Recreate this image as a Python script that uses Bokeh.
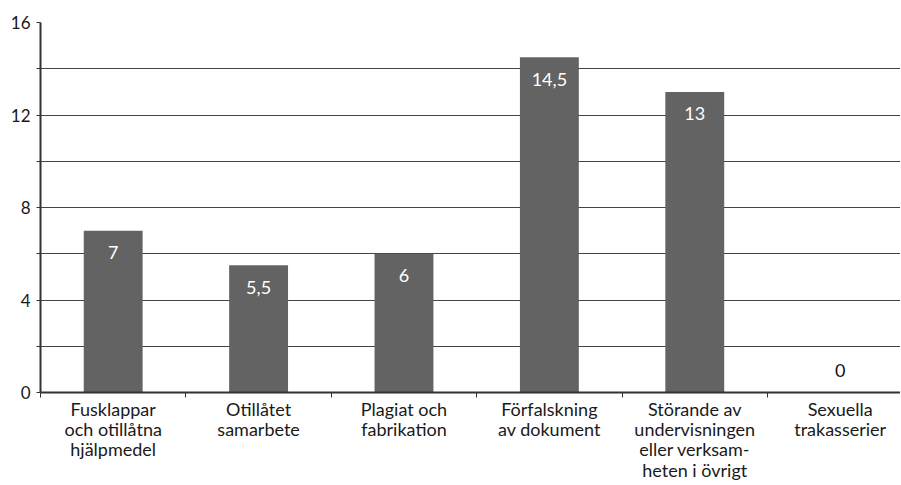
from bokeh.plotting import figure
from bokeh.models import Range1d, FixedTicker, ColumnDataSource
from bokeh.core.properties import value
from bokeh.embed import file_html
from bokeh.resources import INLINE

categories = [
    "Fusklappar\noch otillåtna\nhjälpmedel",
    "Otillåtet\nsamarbete",
    "Plagiat och\nfabrikation",
    "Förfalskning\nav dokument",
    "Störande av\nundervisningen\neller verksam-\nheten i övrigt",
    "Sexuella\ntrakasserier",
]
values = [7, 5.5, 6, 14.5, 13, 0]
value_labels = ["7", "5,5", "6", "14,5", "13", "0"]
y_ticks = [0, 4, 8, 12, 16]
y_minor = [2, 6, 10, 14]

FONT = "Lato"
TXT = "#1a1a1a"

xs = [i + 0.5 for i in range(len(categories))]
src = ColumnDataSource(dict(
    x=xs, top=values, lab=value_labels,
    col=["white" if v > 0 else "#111111" for v in values],
    off=[22 if v > 0 else -22 for v in values],
))

p = figure(width=900, height=484, output_backend="svg", toolbar_location=None,
           x_range=Range1d(0, 5.915), y_range=Range1d(0, 16),
           min_border_left=40, min_border_right=0, min_border_top=22,
           min_border_bottom=92)
p.outline_line_color = None
p.background_fill_color = "white"
p.border_fill_color = "white"

p.vbar(x="x", top="top", width=0.405, bottom=0, source=src,
       fill_color="#636363", line_color=None)
p.text(x="x", y="top", text="lab", source=src, y_offset="off",
       text_color="col", text_align="center", text_baseline="middle",
       text_font=value(FONT), text_font_size="18px")

# y axis
p.yaxis.ticker = FixedTicker(ticks=y_ticks, minor_ticks=y_minor)
p.yaxis.major_tick_out = 4
p.yaxis.major_tick_in = 0
p.yaxis.minor_tick_out = 4
p.yaxis.minor_tick_in = 0
p.yaxis.major_tick_line_color = "#333333"
p.yaxis.minor_tick_line_color = "#333333"
p.yaxis.axis_line_color = "#333333"
p.yaxis.axis_line_width = 2
p.yaxis.major_label_text_font = FONT
p.yaxis.major_label_text_font_size = "17px"
p.yaxis.major_label_text_color = TXT
p.yaxis.major_label_standoff = 6

p.ygrid.ticker = FixedTicker(ticks=y_ticks, minor_ticks=y_minor)
p.ygrid.grid_line_color = "#444444"
p.ygrid.grid_line_width = 1
p.ygrid.minor_grid_line_color = "#444444"
p.ygrid.minor_grid_line_width = 1
p.xgrid.grid_line_color = None

# x axis
p.xaxis.ticker = FixedTicker(ticks=xs, minor_ticks=list(range(len(categories) + 1)))
p.xaxis.major_label_overrides = {x: c for x, c in zip(xs, categories)}
p.xaxis.major_tick_out = 0
p.xaxis.major_tick_in = 0
p.xaxis.minor_tick_out = 5
p.xaxis.minor_tick_in = 0
p.xaxis.minor_tick_line_color = "#333333"
p.xaxis.axis_line_color = "#333333"
p.xaxis.axis_line_width = 2
p.xaxis.major_label_text_font = FONT
p.xaxis.major_label_text_font_size = "18px"
p.xaxis.major_label_text_color = TXT
p.xaxis.major_label_standoff = 0
p.xaxis.major_label_text_line_height = 0.93

open("out.html", "w").write(file_html(p, INLINE))
